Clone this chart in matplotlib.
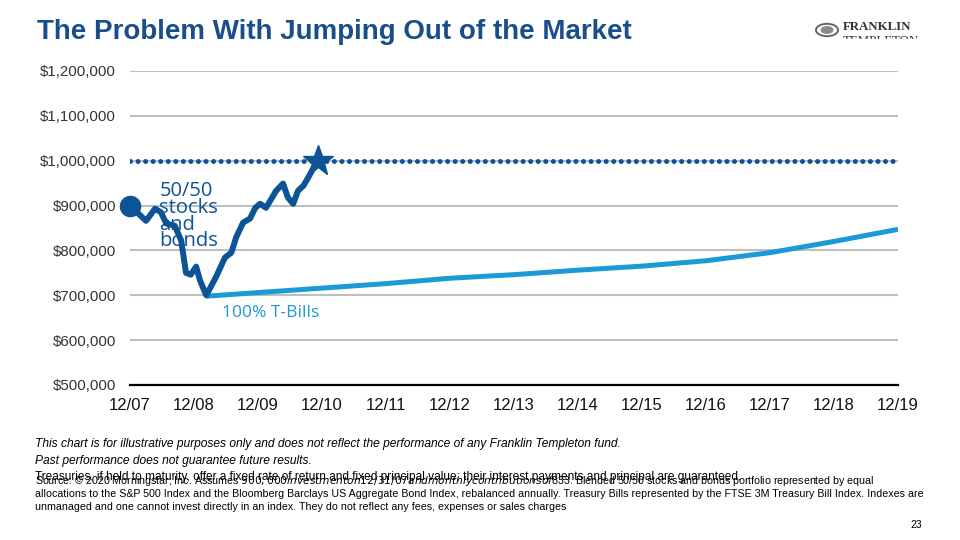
import matplotlib.pyplot as plt
from matplotlib.ticker import FuncFormatter

# --- data (months after 12/07, portfolio value $) ---
mix_months = [0, 3, 4.7, 5.8, 6.8, 8.4, 9.6, 10.5, 11.4, 12.4, 13.1, 14.3, 16.1, 17.8,
              19, 19.9, 21.2, 22.5, 23.5, 24.4, 25.5, 27.4, 28.7, 29.6, 30.6, 31.5,
              32.5, 33.4, 34.3, 35.3]
mix_values = [900000, 866000, 893000, 885000, 860000, 855000, 822000, 750000, 746000,
              764000, 734000, 700000, 740000, 784000, 795000, 829000, 862000, 871000,
              895000, 904000, 895000, 933000, 949000, 918000, 904000, 933000, 944000,
              962000, 982000, 1000000]

tbill_months = [14.3, 24, 36, 48, 60, 72, 84, 96, 108, 120, 132, 144]
tbill_values = [698000, 706000, 716000, 726000, 738000, 746000, 756000, 765000,
                777000, 795000, 820000, 847000]

target_months = [0, 144]
target_values = [1000000, 1000000]

tick_months = list(range(0, 145, 12))
tick_labels = ["12/07", "12/08", "12/09", "12/10", "12/11", "12/12", "12/13",
               "12/14", "12/15", "12/16", "12/17", "12/18", "12/19"]

dark_blue = "#0d5396"
light_blue = "#1b9ad6"

fig = plt.figure(figsize=(9.6, 5.4), dpi=100)
ax = fig.add_axes([130 / 960, 1 - 385 / 540, 768 / 960, 314 / 540])

ax.plot(target_months, target_values, color=dark_blue, lw=3.6,
        linestyle=(0, (0.01, 1.5)), dash_capstyle="round", zorder=3)
ax.plot(tbill_months, tbill_values, color=light_blue, lw=3.6,
        solid_capstyle="butt", zorder=3)
ax.plot(mix_months, mix_values, color=dark_blue, lw=4.3,
        solid_joinstyle="round", zorder=4)
ax.plot(mix_months[0], mix_values[0], "o", color=dark_blue, ms=14.5, zorder=5,
        clip_on=False)
ax.plot(mix_months[-1], mix_values[-1], "*", color=dark_blue, ms=23, zorder=5)

ax.set_xlim(0, 144)
ax.set_ylim(500000, 1200000)
ax.set_yticks(range(500000, 1200001, 100000))
ax.yaxis.set_major_formatter(FuncFormatter(lambda v, p: f"${v:,.0f}"))
ax.set_xticks(tick_months)
ax.set_xticklabels(tick_labels)
ax.grid(axis="y", color="#bfbfbf", lw=1.5, zorder=1)
ax.set_axisbelow(True)
for s in ["top", "right", "left"]:
    ax.spines[s].set_visible(False)
ax.spines["bottom"].set_color("black")
ax.spines["bottom"].set_linewidth(1.6)
ax.tick_params(axis="y", length=0, pad=10, labelsize=10.8, labelcolor="#333333")
ax.tick_params(axis="x", length=0, pad=9, labelsize=12, labelcolor="#111111")
for t in ax.get_yticklabels() + ax.get_xticklabels():
    t.set_family("Liberation Sans")

ax.text(5.5, 955000, "50/50\nstocks\nand\nbonds", color=dark_blue, fontsize=14.5,
        family="Open Sans", linespacing=0.79, va="top", ha="left", zorder=2)
ax.text(17.3, 660000, "100% T-Bills", color=light_blue, fontsize=12.5,
        family="Open Sans", va="center", ha="left")

# title + logo
fig.text(37 / 960, 1 - 32 / 540, "The Problem With Jumping Out of the Market",
         fontsize=20, fontweight="bold", color="#1a4e8a", family="Liberation Sans",
         va="center")
fig.text(843 / 960, 1 - 27 / 540, "FRANKLIN", fontsize=9.3, fontweight="bold",
         color="#333333", family="Liberation Serif", va="center")
fig.text(843 / 960, 1 - 41 / 540, "TEMPLETON", fontsize=9.3, color="#333333",
         family="Liberation Serif", va="center")
fig.patches.append(plt.Rectangle((0.86, 1 - 50 / 540), 0.12, 11 / 540, color="white",
                                 transform=fig.transFigure, figure=fig, zorder=10))
fig.patches.append(plt.Circle((827 / 960, 1 - 30 / 540), 0.0115, fill=False, lw=1.4,
                              ec="#666666", transform=fig.transFigure, figure=fig))
fig.patches.append(plt.Circle((827 / 960, 1 - 30 / 540), 0.006, color="#8a8a8a",
                              transform=fig.transFigure, figure=fig))

# footnotes (the two overlapping lines overlap in the original slide too)
fig.text(35 / 960, 1 - 444 / 540,
         "This chart is for illustrative purposes only and does not reflect the "
         "performance of any Franklin Templeton fund.",
         fontsize=8.65, style="italic", family="Liberation Sans", va="center")
fig.text(35 / 960, 1 - 461 / 540, "Past performance does not guarantee future results.",
         fontsize=8.65, style="italic", family="Liberation Sans", va="center")
fig.text(35 / 960, 1 - 477 / 540,
         "Treasuries, if held to maturity, offer a fixed rate of return and fixed principal "
         "value; their interest payments and principal are guaranteed.",
         fontsize=8.6, family="Liberation Sans", va="center")
source_lines = [
    "Source: © 2020 Morningstar, Inc. Assumes $900,000 investment on 12/31/07 and monthly "
    "contributions of $833. Blended 50/50 stocks and bonds portfolio represented by equal",
    "allocations to the S&P 500 Index and the Bloomberg Barclays US Aggregate Bond Index, "
    "rebalanced annually. Treasury Bills represented by the FTSE 3M Treasury Bill Index. Indexes are",
    "unmanaged and one cannot invest directly in an index. They do not reflect any fees, "
    "expenses or sales charges",
]
for i, line in enumerate(source_lines):
    fig.text(35 / 960, 1 - (481 + 13 * i) / 540, line, fontsize=7.7,
             family="Liberation Sans", va="center")

fig.text(922 / 960, 1 - 525 / 540, "23", fontsize=7.5, ha="right", va="center",
         family="Liberation Sans")

fig.savefig("out.png", dpi=100)
